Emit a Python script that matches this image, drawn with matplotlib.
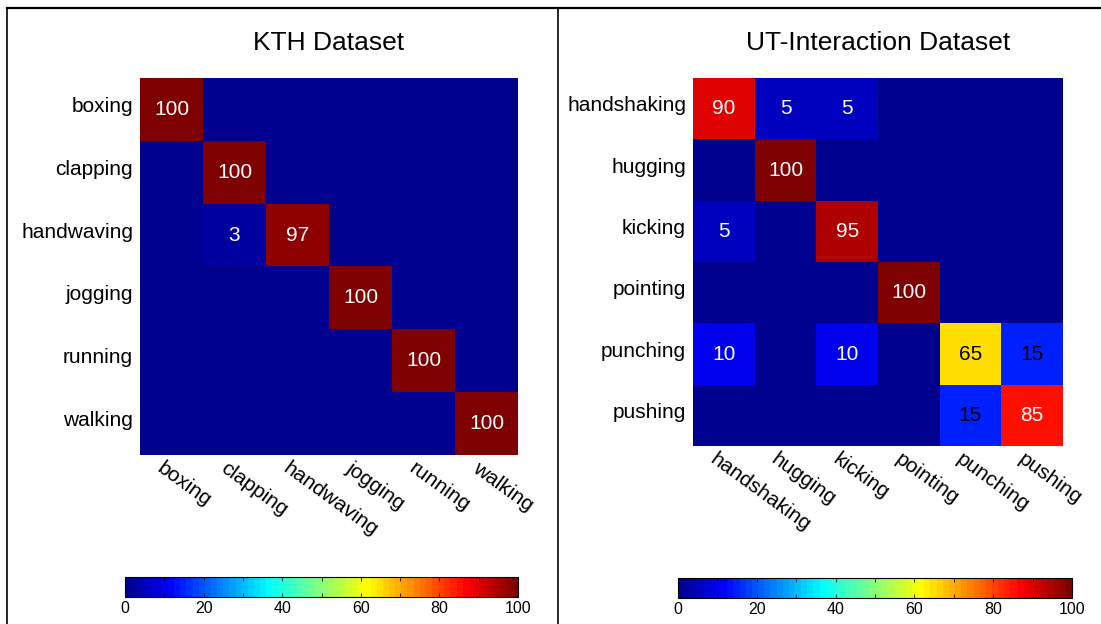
import numpy as np
import matplotlib
matplotlib.use("Agg")
import matplotlib.pyplot as plt
from matplotlib.colors import ListedColormap, Normalize
from matplotlib.lines import Line2D
import matplotlib.ticker as ticker
import matplotlib.transforms as mtransforms

plt.rcParams["font.family"] = ["Liberation Sans", "DejaVu Sans"]

KTH_CLASSES = ["boxing", "clapping", "handwaving", "jogging", "running", "walking"]
KTH_CONF = [
    [100, 0, 0, 0, 0, 0],
    [0, 100, 0, 0, 0, 0],
    [0, 3, 97, 0, 0, 0],
    [0, 0, 0, 100, 0, 0],
    [0, 0, 0, 0, 100, 0],
    [0, 0, 0, 0, 0, 100],
]

UT_CLASSES = ["handshaking", "hugging", "kicking", "pointing", "punching", "pushing"]
UT_CONF = [
    [90, 5, 5, 0, 0, 0],
    [0, 100, 0, 0, 0, 0],
    [5, 0, 95, 0, 0, 0],
    [0, 0, 0, 100, 0, 0],
    [10, 0, 10, 0, 65, 15],
    [0, 0, 0, 0, 15, 85],
]


def matlab_jet(m=64):
    # same construction as MATLAB's jet(m)
    n = int(np.ceil(m / 4))
    u = np.concatenate([np.arange(1, n + 1) / n, np.ones(n - 1), np.arange(n, 0, -1) / n])
    g = int(np.ceil(n / 2)) - (1 if m % 4 == 1 else 0) + np.arange(1, len(u) + 1)
    r = g + n
    b = g - n
    J = np.zeros((m, 3))
    for col, idx in ((0, r), (1, g), (2, b)):
        ok = (idx >= 1) & (idx <= m)
        J[idx[ok] - 1, col] = u[ok]
    return ListedColormap(J)


CMAP = matlab_jet(64)
NORM = Normalize(vmin=0, vmax=100)


def px(x0, y0, x1, y1, W=1101, H=624):
    return [x0 / W, 1 - y1 / H, (x1 - x0) / W, (y1 - y0) / H]


def shift(fig, dx, dy):
    # offset in pixels (dpi 100)
    return mtransforms.ScaledTranslation(dx / 100, dy / 100, fig.dpi_scale_trans)


def panel(fig, ax_rect, cb_rect, classes, conf, title):
    conf = np.array(conf)
    ax = fig.add_axes(px(*ax_rect))
    im = ax.imshow(conf, cmap=CMAP, norm=NORM, aspect="auto", interpolation="nearest")
    n = len(classes)
    for i in range(n):
        for j in range(n):
            v = conf[i, j]
            if v == 0:
                continue
            color = "black" if 12 <= v <= 80 else "white"
            ax.text(j, i, f"{v}", ha="center", va="center", color=color, fontsize=15)
    ax.set_xticks(range(n))
    ax.set_yticks(range(n))
    ax.set_yticklabels(classes, fontsize=15)
    ax.set_xticklabels(classes, fontsize=15, rotation=-36, ha="left", va="center",
                       rotation_mode="anchor")
    ax.tick_params(length=0)
    ax.tick_params(axis="y", pad=5)
    ax.tick_params(axis="x", pad=8)
    for lbl in ax.get_yticklabels():
        lbl.set_transform(lbl.get_transform() + shift(fig, 0, 5))
    for lbl in ax.get_xticklabels():
        lbl.set_transform(lbl.get_transform() + shift(fig, -12, 0))
    for s in ax.spines.values():
        s.set_visible(False)
    ax.set_title(title, fontsize=19, pad=20)

    cax = fig.add_axes(px(*cb_rect))
    cb = fig.colorbar(im, cax=cax, orientation="horizontal")
    cb.set_ticks([0, 20, 40, 60, 80, 100])
    cax.xaxis.set_minor_locator(ticker.MultipleLocator(10))
    cax.tick_params(which="both", direction="in", top=True, bottom=True,
                    length=3, width=0.6, labelsize=11.5, pad=3)
    cb.outline.set_linewidth(0.8)
    return ax


fig = plt.figure(figsize=(11.01, 6.24), dpi=100)

panel(fig, (140, 78, 518, 455), (125, 577, 518, 597), KTH_CLASSES, KTH_CONF, "KTH Dataset")
panel(fig, (693, 78, 1063, 446), (678, 578, 1072, 598), UT_CLASSES, UT_CONF, "UT-Interaction Dataset")

# frame around the two panels
W, H = 1101, 624
for (x0, y0, x1, y1, lw) in [(7, 8, 1101, 8, 1.6), (7, 8, 7, 624, 1.2), (558, 8, 558, 624, 1.2)]:
    fig.add_artist(Line2D([x0 / W, x1 / W], [1 - y0 / H, 1 - y1 / H],
                          transform=fig.transFigure, color="black", lw=lw))

fig.savefig("out.png", dpi=100)
